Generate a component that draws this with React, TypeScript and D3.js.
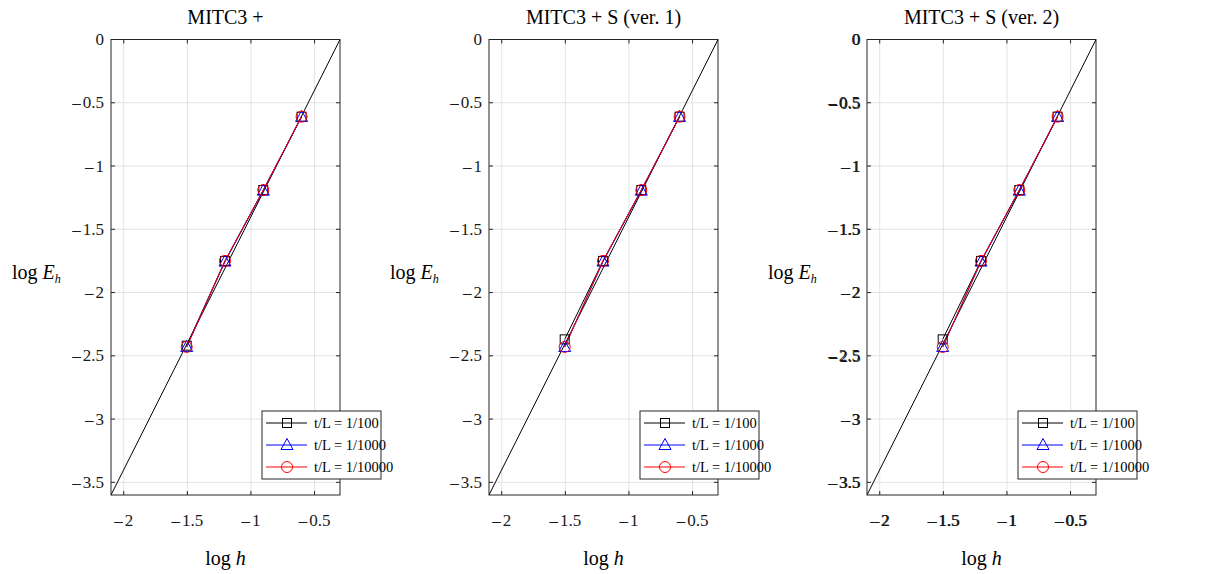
import React from "react"
import * as d3 from "d3"

const W = 1209
const H = 574
const FONT = "Liberation Serif"

const titles = ["MITC3 + ", "MITC3 + S (ver. 1)", "MITC3 + S (ver. 2)"]
const seriesNames = ["t/L = 1/100", "t/L = 1/1000", "t/L = 1/10000"]
const seriesColors = ["#000000", "#0000ff", "#ff0000"]
const seriesMarkers = ["square", "triangle", "circle"]

const logH = [-1.505, -1.204, -0.903, -0.602]

// panel -> series -> log E_h
const panel1 = [
  [-2.42, -1.75, -1.19, -0.61],
  [-2.43, -1.755, -1.195, -0.612],
  [-2.43, -1.75, -1.19, -0.61],
]
const panel2 = [
  [-2.37, -1.75, -1.19, -0.61],
  [-2.43, -1.755, -1.195, -0.612],
  [-2.43, -1.75, -1.19, -0.61],
]
const panel3 = [
  [-2.37, -1.75, -1.19, -0.61],
  [-2.43, -1.755, -1.195, -0.612],
  [-2.43, -1.75, -1.19, -0.61],
]
const panels = [panel1, panel2, panel3]

// slope-2 reference line
const refX = [-2.1, -0.3]
const refY = [-3.6, 0]

const xTicks = [-2, -1.5, -1, -0.5]
const yTicks = [0, -0.5, -1, -1.5, -2, -2.5, -3, -3.5]

const PLOT = { left: 111, top: 39.5, w: 229, h: 455.5, step: 378 }

// MATLAB-style negative label: long minus, small gap, digits
function TickLabel({ v, ...rest }: any) {
  if (v === 0) return <text {...rest}>0</text>
  return (
    <text {...rest}>
      <tspan>{"\u2013"}</tspan>
      <tspan dx={2}>{String(Math.abs(v))}</tspan>
    </text>
  )
}

function Marker({ kind, x, y, color }: { kind: string; x: number; y: number; color: string }) {
  if (kind === "square")
    return <rect x={x - 4.5} y={y - 4.5} width={9} height={9} fill="none" stroke={color} strokeWidth={1} />
  if (kind === "triangle") {
    const p = d3.path()
    p.moveTo(x, y - 6.5)
    p.lineTo(x + 6, y + 4.5)
    p.lineTo(x - 6, y + 4.5)
    p.closePath()
    return <path d={p.toString()} fill="none" stroke={color} strokeWidth={1} />
  }
  return <circle cx={x} cy={y} r={5.5} fill="none" stroke={color} strokeWidth={1} />
}

function Panel({ idx }: { idx: number }) {
  const x0 = PLOT.left + idx * PLOT.step
  const x = d3.scaleLinear().domain([-2.1, -0.3]).range([x0, x0 + PLOT.w])
  const y = d3.scaleLinear().domain([-3.6, 0]).range([PLOT.top + PLOT.h, PLOT.top])
  const line = d3
    .line<number>()
    .x((_, i) => x(logH[i]))
    .y(d => y(d))
  const refLine = d3
    .line<number>()
    .x((_, i) => x(refX[i]))
    .y(d => y(d))
  const data = panels[idx]
  const doubled = idx === 2
  const clipId = `clip${idx}`
  const legX = x0 + PLOT.w - 78
  const legY = 411
  const top = PLOT.top
  const bot = PLOT.top + PLOT.h
  const left = x0
  const right = x0 + PLOT.w

  const tickText = (props: any, v: number) => (
    <>
      <TickLabel v={v} {...props} />
      {doubled ? <TickLabel v={v} {...props} x={props.x + 0.8} y={props.y + 0.4} /> : null}
    </>
  )

  return (
    <g>
      <defs>
        <clipPath id={clipId}>
          <rect x={left} y={top} width={PLOT.w} height={PLOT.h} />
        </clipPath>
      </defs>
      <rect x={left} y={top} width={PLOT.w} height={PLOT.h} fill="#fff" />
      {/* grid */}
      {xTicks.map(t => (
        <line key={"gx" + t} x1={x(t)} x2={x(t)} y1={top} y2={bot} stroke="#e3e3e3" strokeWidth={1} />
      ))}
      {yTicks.map(t => (
        <line key={"gy" + t} x1={left} x2={right} y1={y(t)} y2={y(t)} stroke="#e3e3e3" strokeWidth={1} />
      ))}
      {/* box */}
      <rect x={left} y={top} width={PLOT.w} height={PLOT.h} fill="none" stroke="#262626" strokeWidth={1} />
      {/* ticks */}
      {xTicks.map(t => (
        <g key={"tx" + t}>
          <line x1={x(t)} x2={x(t)} y1={bot} y2={bot - 4} stroke="#262626" />
          <line x1={x(t)} x2={x(t)} y1={top} y2={top + 4} stroke="#262626" />
          {tickText({ x: x(t), y: bot + 31, textAnchor: "middle", fontSize: 17, fill: "#1a1a1a" }, t)}
        </g>
      ))}
      {yTicks.map(t => (
        <g key={"ty" + t}>
          <line x1={left} x2={left + 4} y1={y(t)} y2={y(t)} stroke="#262626" />
          <line x1={right} x2={right - 4} y1={y(t)} y2={y(t)} stroke="#262626" />
          {tickText({ x: left - 7, y: y(t) + 5.5, textAnchor: "end", fontSize: 17, fill: "#1a1a1a" }, t)}
        </g>
      ))}
      {/* reference + data */}
      <g clipPath={`url(#${clipId})`}>
        <path d={refLine(refY) || ""} fill="none" stroke="#000" strokeWidth={1} />
        {data.map((s, si) => (
          <path key={"l" + si} d={line(s) || ""} fill="none" stroke={seriesColors[si]} strokeWidth={1} />
        ))}
      </g>
      {data.map((s, si) =>
        s.map((v, i) => (
          <Marker key={`m${si}-${i}`} kind={seriesMarkers[si]} x={x(logH[i])} y={y(v)} color={seriesColors[si]} />
        )),
      )}
      {/* title */}
      <text x={(left + right) / 2} y={24} textAnchor="middle" fontSize={20} fill="#000">
        {titles[idx]}
      </text>
      {/* axis labels */}
      <text x={(left + right) / 2} y={565} textAnchor="middle" fontSize={20} fill="#000">
        log <tspan fontStyle="italic">h</tspan>
      </text>
      <text x={left - 99} y={279} fontSize={20} fill="#000">
        log <tspan fontStyle="italic">E</tspan>
        <tspan fontStyle="italic" fontSize={12} dy={4}>h</tspan>
      </text>
      {/* legend */}
      <rect x={legX} y={legY} width={119} height={68} fill="#fff" stroke="#262626" strokeWidth={1} />
      {seriesNames.map((n, si) => {
        const ly = legY + 12 + si * 22
        return (
          <g key={"lg" + si}>
            <line x1={legX + 4} x2={legX + 45} y1={ly} y2={ly} stroke={seriesColors[si]} strokeWidth={1} />
            <Marker kind={seriesMarkers[si]} x={legX + 25} y={ly} color={seriesColors[si]} />
            <text x={legX + 52} y={ly + 5} fontSize={14.5} fill="#000">
              {n}
            </text>
          </g>
        )
      })}
    </g>
  )
}

export default function App() {
  return (
    <svg
      width={W}
      height={H}
      style={{ position: "absolute", left: 0, top: 0, display: "block", background: "#fff", fontFamily: FONT }}
    >
      <rect width={W} height={H} fill="#fff" />
      {[0, 1, 2].map(i => (
        <Panel key={i} idx={i} />
      ))}
    </svg>
  )
}
